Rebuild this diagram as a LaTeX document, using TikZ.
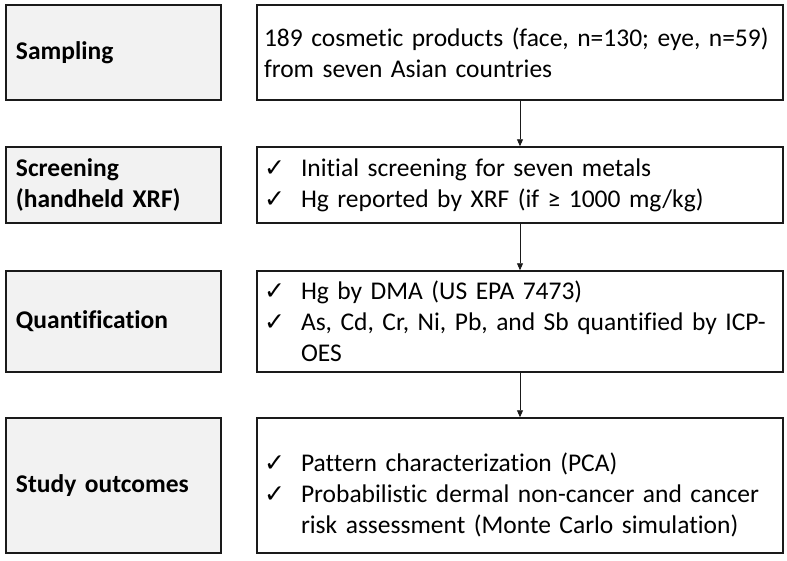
\documentclass[tikz,border=0pt]{standalone}
\usepackage{fontspec}
\setmainfont{Carlito}[Ligatures=NoCommon]
\newfontfamily\tickfont{DejaVu Sans}
\usetikzlibrary{arrows.meta,positioning}
\definecolor{ink}{HTML}{1A1A1A}
\definecolor{panel}{HTML}{F2F2F2}
\newcommand{\tick}{\makebox[37pt][l]{{\tickfont\fontsize{25}{31}\selectfont ✓}}}
\newcommand{\cont}{\hspace*{37pt}}

\begin{document}
\begin{tikzpicture}[x=1pt, y=-1pt, font=\fontsize{25.5}{31}\selectfont,
  stagebox/.style={draw=ink, line width=1.5pt, fill=panel, text width=195pt,
    inner xsep=10pt, align=left, font=\fontsize{25.5}{31}\selectfont\bfseries},
  infobox/.style={draw=ink, line width=1.5pt, fill=white, text width=512pt,
    inner xsep=7pt, align=left}]
  \useasboundingbox (0,0) rectangle (787,560);
  % left column: stages
  \node[stagebox, minimum height=95pt] (sampling) at (113.5,52.5) {Sampling};
  \node[stagebox, minimum height=76pt] (screening) at (113.5,185) {Screening\\(handheld XRF)};
  \node[stagebox, minimum height=101pt] (quant) at (113.5,321.5) {Quantification};
  \node[stagebox, minimum height=135pt] (outcomes) at (113.5,485.5) {Study outcomes};
  % right column: details
  \node[infobox, minimum height=95pt] (samplingtxt) at (520,52.5)
    {189 cosmetic products (face, n=130; eye, n=59)\\from seven Asian countries};
  \node[infobox, minimum height=76pt] (screeningtxt) at (520,185)
    {\tick Initial screening for seven metals\\\tick Hg reported by XRF (if ≥ 1000 mg/kg)};
  \node[infobox, minimum height=101pt] (quanttxt) at (520,321.5)
    {\tick Hg by DMA (US EPA 7473)\\\tick As, Cd, Cr, Ni, Pb, and Sb quantified by ICP-\\\cont OES};
  \node[infobox, minimum height=135pt] (outcomestxt) at (520,485.5)
    {\rule{0pt}{38pt}\tick Pattern characterization (PCA)\\\tick Probabilistic dermal non-cancer and cancer\\\cont risk assessment (Monte Carlo simulation)};
  % flow
  \foreach \a/\b in {samplingtxt/screeningtxt, screeningtxt/quanttxt, quanttxt/outcomestxt}
    \draw[-{Triangle[length=7pt,width=6pt]}, ink, line width=0.9pt] (\a.south) -- (\b.north);
\end{tikzpicture}
\end{document}
